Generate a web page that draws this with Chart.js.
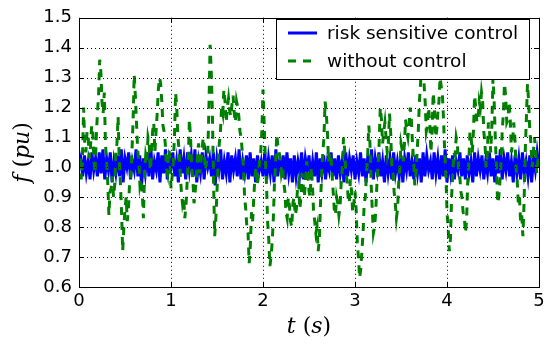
<!DOCTYPE html>
<html>
<head>
<meta charset="utf-8">
<script src="https://cdn.jsdelivr.net/npm/chart.js@4/dist/chart.umd.min.js"></script>
<style>
html,body{margin:0;padding:0;background:#fff;}
canvas{display:block;}
</style>
</head>
<body>
<canvas id="c" width="553" height="348"></canvas>
<script>
// ---- data ----
const seriesNames = ['risk sensitive control', 'without control'];
const xTicks = [0, 1, 2, 3, 4, 5];
const yTicks = [0.6, 0.7, 0.8, 0.9, 1.0, 1.1, 1.2, 1.3, 1.4, 1.5];
const dtRisk = 0.02;       // sample spacing of blue trace (s)
const dtNoCtrl = 0.0125;   // sample spacing of green trace (s)

const riskSensitive = [
1.00,1.03,0.97,1.04,0.98,1.02,0.96,1.05,0.99,1.03,
0.97,1.05,0.98,1.06,0.96,1.03,0.99,1.05,0.95,1.02,
0.98,1.04,0.97,1.06,0.95,1.03,1.00,1.05,0.96,1.02,
0.99,1.06,0.97,1.04,0.94,1.03,0.98,1.05,0.97,1.07,
0.96,1.02,0.99,1.05,0.95,1.04,0.98,1.06,0.96,1.03,
1.00,1.05,0.97,1.02,0.95,1.06,0.98,1.03,0.96,1.05,
0.99,1.04,0.97,1.06,0.95,1.02,0.98,1.05,0.96,1.04,
1.00,1.03,0.97,1.05,0.94,1.03,0.99,1.06,0.96,1.02,
0.98,1.05,0.95,1.04,0.99,1.03,0.97,1.06,0.96,1.02,
0.98,1.04,0.96,1.05,0.97,1.03,0.95,1.04,0.99,1.02,
0.97,1.05,0.96,1.03,0.98,1.04,0.95,1.06,0.97,1.02,
0.99,1.04,0.96,1.05,0.98,1.03,0.95,1.04,0.97,1.02,
0.98,1.05,0.96,1.03,0.99,1.04,0.96,1.02,0.97,1.05,
0.95,1.03,0.98,1.04,0.96,1.02,0.99,1.05,0.97,1.03,
0.96,1.04,0.98,1.02,0.95,1.05,0.97,1.03,0.99,1.04,
0.96,1.02,0.98,1.05,0.97,1.03,0.95,1.04,0.98,1.06,
0.96,1.03,0.99,1.05,0.97,1.02,0.95,1.04,0.98,1.03,
0.96,1.05,0.98,1.02,0.97,1.04,0.95,1.03,0.99,1.05,
0.97,1.02,0.96,1.04,0.98,1.03,0.95,1.05,0.97,1.04,
0.99,1.02,0.96,1.05,0.98,1.03,0.96,1.04,0.97,1.06,
0.95,1.03,0.98,1.04,0.96,1.02,0.99,1.05,0.97,1.03,
0.96,1.04,0.98,1.02,0.95,1.05,0.97,1.03,0.99,1.04,
0.96,1.02,0.98,1.05,0.97,1.03,0.95,1.04,0.98,1.06,
0.96,1.03,0.99,1.05,0.97,1.02,0.95,1.04,0.98,1.03,
0.96,1.05,0.98,1.02,0.97,1.04,0.95,1.03,0.99,1.05,
1.00
];

const withoutControl = [
1.00,1.04,0.96,1.02,1.20,1.08,1.05,1.12,1.10,1.03,
1.07,1.14,1.12,1.02,0.98,1.10,1.18,1.24,1.36,1.32,
1.22,1.18,1.25,1.08,1.02,0.95,0.84,0.92,0.93,0.97,
0.90,0.94,1.05,1.08,1.17,1.02,0.95,0.85,0.72,0.80,
0.86,0.90,0.82,0.86,0.95,0.97,1.05,1.15,1.31,1.24,
1.15,1.06,1.02,0.94,0.96,0.92,0.83,0.98,1.04,1.02,
1.10,1.08,0.99,1.04,1.12,1.15,1.05,1.12,1.18,1.26,
1.30,1.28,1.22,1.14,1.12,1.08,1.00,0.98,1.06,1.04,
0.93,0.97,1.02,1.10,1.25,1.20,1.10,1.06,0.98,0.92,
0.88,0.90,0.83,0.87,0.95,1.02,1.16,1.10,1.00,0.96,
0.88,0.92,0.96,1.04,1.08,0.98,1.02,1.06,1.10,1.04,
0.99,1.02,1.05,1.20,1.41,1.32,1.18,0.95,0.77,0.83,
0.92,1.02,1.08,1.12,1.20,1.18,1.26,1.22,1.15,1.20,
1.23,1.19,1.17,1.21,1.24,1.18,1.15,1.22,1.20,1.17,
1.12,1.10,1.05,1.00,0.90,0.86,0.80,0.78,0.68,0.74,
0.85,0.82,0.90,0.97,1.00,0.94,0.97,1.02,1.05,1.12,
1.26,1.15,1.03,0.95,0.82,0.76,0.67,0.70,0.75,0.83,
0.95,1.02,1.11,1.07,1.05,1.03,0.98,1.00,0.95,0.92,
0.85,0.83,0.90,0.87,0.82,0.80,0.88,0.90,0.84,0.86,
0.93,0.95,0.86,0.90,0.98,0.94,0.90,0.96,1.02,0.98,
0.92,0.90,1.00,0.94,0.85,0.82,0.78,0.80,0.72,0.76,
0.88,0.98,1.05,1.10,1.22,1.18,1.12,1.02,1.05,1.04,
0.98,0.92,0.86,0.84,0.90,0.88,0.84,0.87,0.95,1.00,
1.10,1.06,0.98,0.96,0.90,0.88,0.96,0.92,0.85,0.88,
0.92,0.86,0.75,0.70,0.63,0.66,0.72,0.78,0.88,0.90,
0.98,1.04,1.14,1.08,0.95,0.86,0.78,0.80,0.85,0.94,
1.00,1.08,1.20,1.16,1.08,1.12,1.15,1.10,1.05,1.08,
1.18,1.12,1.00,0.98,0.92,0.88,0.83,0.86,0.95,1.00,
1.08,1.06,1.02,1.08,1.16,1.12,1.10,1.14,1.20,1.16,
1.08,1.02,0.94,0.98,1.05,1.12,1.22,1.28,1.35,1.32,
1.28,1.22,1.12,1.14,1.20,1.15,1.05,1.12,1.25,1.20,
1.10,1.12,1.18,1.22,1.30,1.27,1.24,1.16,1.05,0.98,
0.85,0.80,0.72,0.76,0.90,0.98,1.05,1.04,1.10,1.08,
1.00,0.98,0.92,0.90,0.85,0.84,0.78,0.82,0.95,1.02,
1.12,1.10,1.05,1.12,1.24,1.20,1.15,1.16,1.22,1.20,
1.25,1.22,1.12,1.08,1.00,1.04,1.15,1.12,1.05,1.14,
1.30,1.22,1.10,1.00,0.88,0.90,0.95,1.02,1.12,1.18,
1.28,1.24,1.15,1.16,1.22,1.16,1.05,1.08,1.15,1.10,
1.00,0.96,0.88,0.90,0.82,0.84,0.77,0.88,1.05,1.16,
1.28,1.22,1.12,1.08,1.00,1.04,1.10,1.06,0.98,1.02,
1.05
];

// ---- chart ----
const FONT = "'DejaVu Sans', sans-serif";

const framePlugin = {
  id: 'frame',
  afterDatasetsDraw(chart) {
    const {ctx, chartArea: a, scales} = chart;
    ctx.save();
    ctx.strokeStyle = '#000';
    ctx.lineWidth = 1;
    // dotted grid
    ctx.setLineDash([1, 3]);
    xTicks.forEach((v, i) => {
      if (i === 0 || i === xTicks.length - 1) return;
      const px = Math.round(scales.x.getPixelForValue(v)) + 0.5;
      ctx.beginPath(); ctx.moveTo(px, a.top); ctx.lineTo(px, a.bottom); ctx.stroke();
    });
    yTicks.forEach((v, i) => {
      if (i === 0 || i === yTicks.length - 1) return;
      const py = Math.round(scales.y.getPixelForValue(v)) + 0.5;
      ctx.beginPath(); ctx.moveTo(a.left, py); ctx.lineTo(a.right, py); ctx.stroke();
    });
    ctx.setLineDash([]);
    // inward ticks on all four sides
    const L = 5;
    xTicks.forEach(v => {
      const px = Math.round(scales.x.getPixelForValue(v)) + 0.5;
      ctx.beginPath();
      ctx.moveTo(px, a.bottom); ctx.lineTo(px, a.bottom - L);
      ctx.moveTo(px, a.top); ctx.lineTo(px, a.top + L);
      ctx.stroke();
    });
    yTicks.forEach(v => {
      const py = Math.round(scales.y.getPixelForValue(v)) + 0.5;
      ctx.beginPath();
      ctx.moveTo(a.left, py); ctx.lineTo(a.left + L, py);
      ctx.moveTo(a.right, py); ctx.lineTo(a.right - L, py);
      ctx.stroke();
    });
    // frame
    ctx.strokeRect(Math.round(a.left) + 0.5, Math.round(a.top) + 0.5,
                   Math.round(a.right - a.left), Math.round(a.bottom - a.top));
    ctx.restore();
  },
  afterDraw(chart) {
    const {ctx, chartArea: a} = chart;
    ctx.save();
    // legend box
    const bx = 276.5, by = 19.5, bw = 253, bh = 60;
    ctx.fillStyle = '#fff';
    ctx.fillRect(bx, by, bw, bh);
    ctx.strokeStyle = '#000';
    ctx.lineWidth = 1;
    ctx.strokeRect(bx, by, bw, bh);
    const ds = chart.data.datasets;
    const rows = [33, 61];
    rows.forEach((ry, i) => {
      ctx.strokeStyle = ds[i].borderColor;
      ctx.lineWidth = 3;
      ctx.setLineDash(ds[i].borderDash || []);
      ctx.beginPath(); ctx.moveTo(288, ry); ctx.lineTo(317, ry); ctx.stroke();
      ctx.setLineDash([]);
      ctx.fillStyle = '#000';
      ctx.font = "18.5px " + FONT;
      ctx.textBaseline = 'middle';
      ctx.textAlign = 'left';
      ctx.fillText(seriesNames[i], 327, ry + 1);
    });
    // axis titles (math style)
    const drawParts = (parts, x, y) => {
      let w = 0;
      parts.forEach(p => { ctx.font = p[1]; w += ctx.measureText(p[0]).width; });
      let cx = x - w / 2;
      parts.forEach(p => { ctx.font = p[1]; ctx.fillText(p[0], cx, y); cx += ctx.measureText(p[0]).width; });
    };
    const it = "italic 22px 'DejaVu Serif', serif";
    const rm = "22px 'DejaVu Serif', serif";
    ctx.fillStyle = '#000';
    ctx.textBaseline = 'alphabetic';
    ctx.textAlign = 'left';
    drawParts([['t', it], [' (', rm], ['s', it], [')', rm]], (a.left + a.right) / 2, 333);
    ctx.save();
    ctx.translate(29, (a.top + a.bottom) / 2);
    ctx.rotate(-Math.PI / 2);
    drawParts([['f', it], [' (', rm], ['pu', it], [')', rm]], 0, 0);
    ctx.restore();
    ctx.restore();
  }
};

new Chart(document.getElementById('c'), {
  type: 'line',
  data: {
    datasets: [
      {
        label: seriesNames[0],
        data: riskSensitive.map((v, i) => ({x: i * dtRisk, y: v})),
        borderColor: '#0000ff',
        borderWidth: 3,
        pointRadius: 0,
        tension: 0,
        order: 1,
        clip: 0
      },
      {
        label: seriesNames[1],
        data: withoutControl.map((v, i) => ({x: i * dtNoCtrl, y: v})),
        borderColor: '#008000',
        borderWidth: 3,
        borderDash: [8, 7],
        pointRadius: 0,
        tension: 0,
        order: 0,
        clip: 0
      }
    ]
  },
  options: {
    responsive: false,
    animation: false,
    events: [],
    layout: {padding: {left: 0, right: 14, top: 9, bottom: 0}},
    plugins: {legend: {display: false}, tooltip: {enabled: false}},
    scales: {
      x: {
        type: 'linear', min: 0, max: 5,
        afterBuildTicks: s => { s.ticks = xTicks.map(v => ({value: v})); },
        ticks: {font: {family: FONT, size: 18}, color: '#000', padding: 4, maxRotation: 0,
                callback: v => String(v)},
        grid: {display: false, drawTicks: false},
        border: {display: false},
        afterFit: s => { s.height = 61; }
      },
      y: {
        min: 0.6, max: 1.5,
        afterBuildTicks: s => { s.ticks = yTicks.map(v => ({value: v})); },
        ticks: {font: {family: FONT, size: 18}, color: '#000', padding: 7,
                callback: v => Number(v).toFixed(1)},
        grid: {display: false, drawTicks: false},
        border: {display: false},
        afterFit: s => { s.width = 79; }
      }
    }
  },
  plugins: [framePlugin]
});
</script>
</body>
</html>
